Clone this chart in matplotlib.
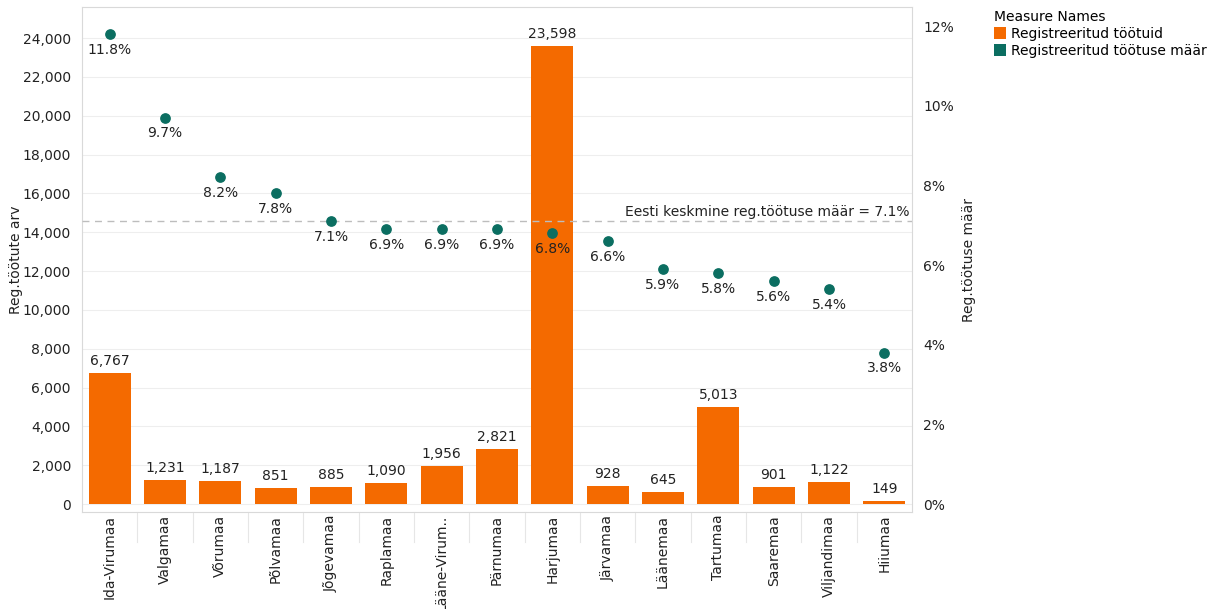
import numpy as np
import matplotlib.pyplot as plt
from matplotlib.patches import Patch
from matplotlib.ticker import FuncFormatter

# Maakonnad ja registreeritud töötute andmed
maakonnad = ['Ida-Virumaa', 'Valgamaa', 'Võrumaa', 'Põlvamaa', 'Jõgevamaa', 'Raplamaa',
             'Lääne-Virum..', 'Pärnumaa', 'Harjumaa', 'Järvamaa', 'Läänemaa', 'Tartumaa',
             'Saaremaa', 'Viljandimaa', 'Hiiumaa']
tootuid = [6767, 1231, 1187, 851, 885, 1090, 1956, 2821, 23598, 928, 645, 5013, 901, 1122, 149]
maar = [11.8, 9.7, 8.2, 7.8, 7.1, 6.9, 6.9, 6.9, 6.8, 6.6, 5.9, 5.8, 5.6, 5.4, 3.8]
keskmine = 7.1

orange = '#f46a00'
teal = '#0b6e61'
grid_c = '#eeeeee'
text_c = '#222222'

plt.rcParams['font.family'] = ['DejaVu Sans']
plt.rcParams['font.size'] = 10

fig = plt.figure(figsize=(12.1, 6.09), dpi=100)
ax = fig.add_axes([82 / 1210, 97 / 609, 830 / 1210, 505 / 609])
ax2 = ax.twinx()

x = np.arange(len(maakonnad))
ax.bar(x, tootuid, width=0.76, color=orange, zorder=2)
for xi, v in zip(x, tootuid):
    ax.text(xi, v + 250, f'{v:,}', ha='center', va='bottom', fontsize=10, color=text_c)

ax.set_xlim(-0.5, len(maakonnad) - 0.5)
ax.set_ylim(-410, 25600)
ax.set_yticks(np.arange(0, 24001, 2000))
ax.yaxis.set_major_formatter(FuncFormatter(lambda v, p: f'{int(v):,}'))
ax.set_xticks(x)
ax.set_xticklabels(maakonnad, rotation=90, fontsize=10, color=text_c)
ax.set_ylabel('Reg.töötute arv', fontsize=10, color=text_c, labelpad=0)
ax.grid(axis='y', color=grid_c, linewidth=0.8, zorder=0)
ax.tick_params(axis='y', length=0, labelsize=10, colors=text_c, pad=8)
ax.tick_params(axis='x', length=0, pad=2)
for s in ax.spines.values():
    s.set_color('#d9d9d9')
    s.set_linewidth(0.8)

# vertikaalsed eraldajad kategooriate vahel (all)
for b in np.arange(0.5, len(maakonnad) - 1, 1):
    ax.plot([b, b], [0, -0.06], transform=ax.get_xaxis_transform(), color='#e6e6e6',
            linewidth=0.8, clip_on=False)

ax2.scatter(x, maar, s=45, color=teal, zorder=3)
for xi, v in zip(x, maar):
    ax2.text(xi, v - 0.22, f'{v}%', ha='center', va='top', fontsize=10, color=text_c)
ax2.axhline(keskmine, color='#bdbdbd', linestyle=(0, (5, 4)), linewidth=1, zorder=1)
ax2.text(len(maakonnad) - 0.55, keskmine + 0.05, f'Eesti keskmine reg.töötuse määr = {keskmine}%',
         ha='right', va='bottom', fontsize=10, color=text_c)
ax2.set_ylim(-0.2, 12.48)
ax2.set_yticks(np.arange(0, 12.1, 2))
ax2.yaxis.set_major_formatter(FuncFormatter(lambda v, p: f'{int(v)}%'))
ax2.tick_params(axis='y', length=0, labelsize=10, colors=text_c, pad=8)
ax2.set_ylabel('Reg.töötuse määr', fontsize=10, color=text_c, labelpad=6)
for s in ax2.spines.values():
    s.set_visible(False)

handles = [Patch(facecolor=orange, label='Registreeritud töötuid'),
           Patch(facecolor=teal, label='Registreeritud töötuse määr')]
leg = fig.legend(handles=handles, title='Measure Names', loc='upper left',
                 bbox_to_anchor=(994 / 1210, 1 - 10 / 609), frameon=False, fontsize=10,
                 title_fontsize=10, handlelength=0.9, handleheight=0.9,
                 handletextpad=0.35, labelspacing=0.2, borderaxespad=0, borderpad=0)
leg._legend_box.align = 'left'

fig.savefig('out.png', dpi=100)
